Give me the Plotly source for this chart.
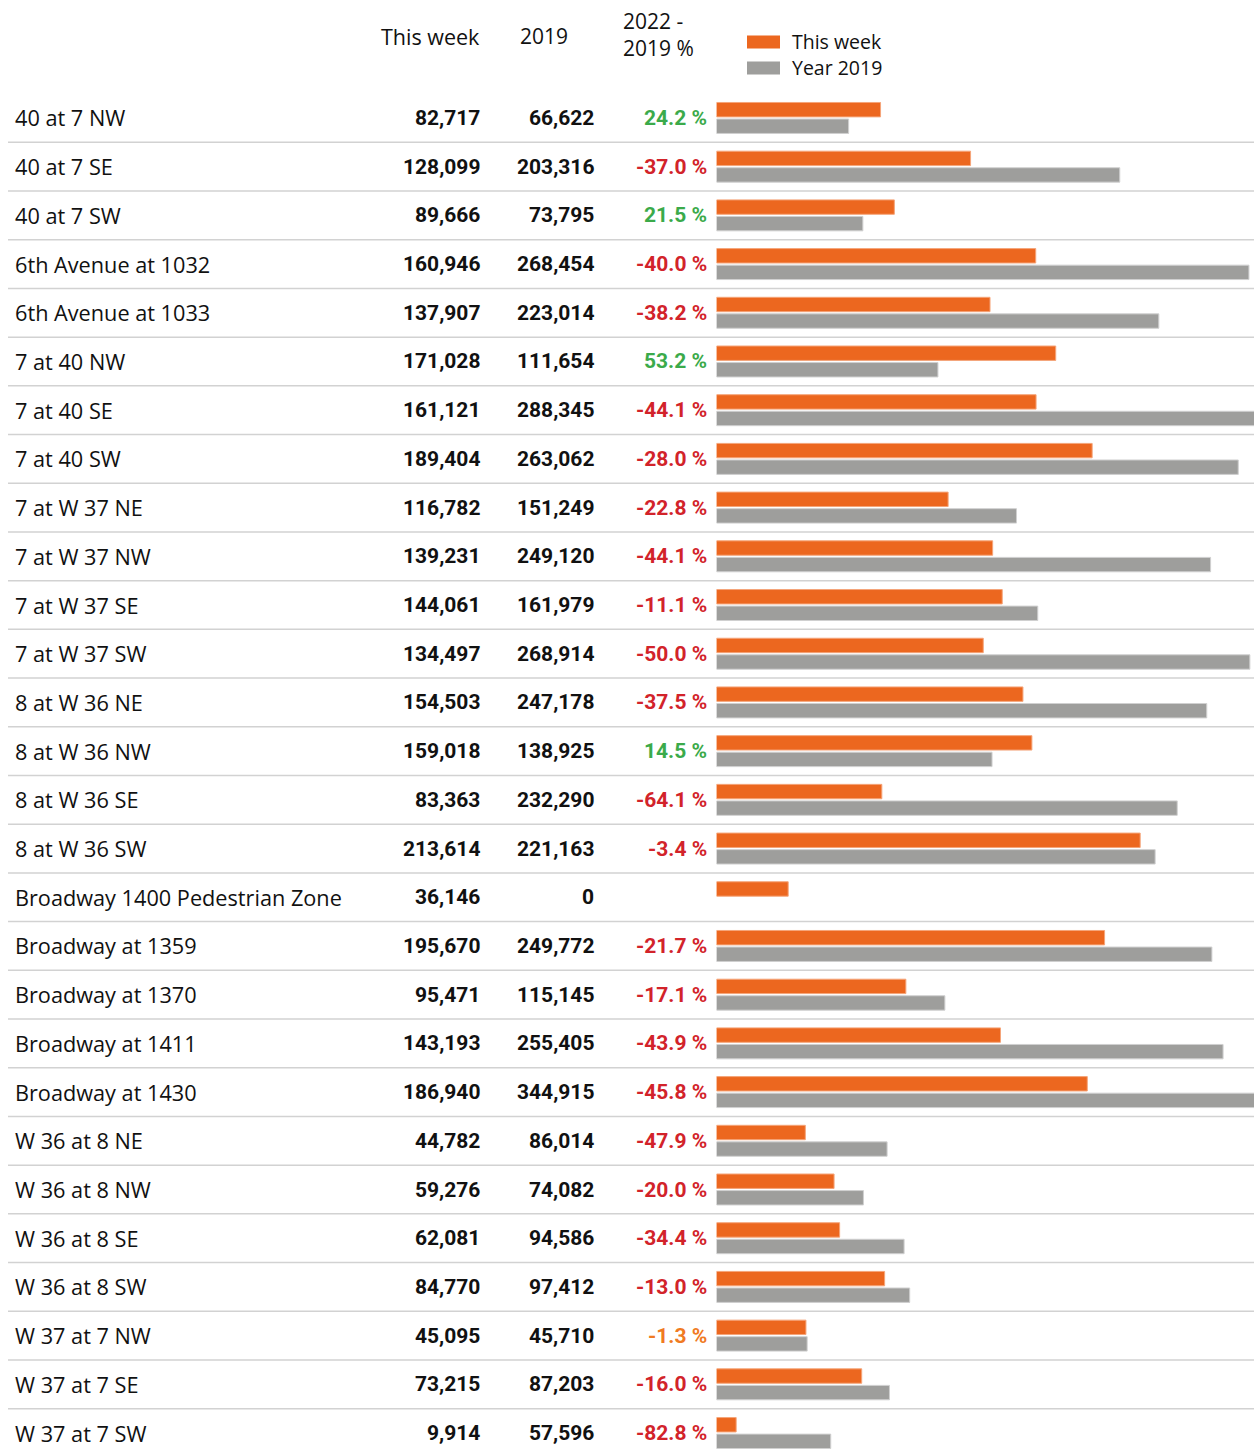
import plotly.graph_objects as go

names = ["40 at 7 NW", "40 at 7 SE", "40 at 7 SW", "6th Avenue at 1032", "6th Avenue at 1033",
         "7 at 40 NW", "7 at 40 SE", "7 at 40 SW", "7 at W 37 NE", "7 at W 37 NW",
         "7 at W 37 SE", "7 at W 37 SW", "8 at W 36 NE", "8 at W 36 NW", "8 at W 36 SE",
         "8 at W 36 SW", "Broadway 1400 Pedestrian Zone", "Broadway at 1359", "Broadway at 1370",
         "Broadway at 1411", "Broadway at 1430", "W 36 at 8 NE", "W 36 at 8 NW", "W 36 at 8 SE",
         "W 36 at 8 SW", "W 37 at 7 NW", "W 37 at 7 SE", "W 37 at 7 SW"]
this_week = [82717, 128099, 89666, 160946, 137907, 171028, 161121, 189404, 116782, 139231,
             144061, 134497, 154503, 159018, 83363, 213614, 36146, 195670, 95471, 143193,
             186940, 44782, 59276, 62081, 84770, 45095, 73215, 9914]
year_2019 = [66622, 203316, 73795, 268454, 223014, 111654, 288345, 263062, 151249, 249120,
             161979, 268914, 247178, 138925, 232290, 221163, 0, 249772, 115145, 255405,
             344915, 86014, 74082, 94586, 97412, 45710, 87203, 57596]
pct_change = [24.2, -37.0, 21.5, -40.0, -38.2, 53.2, -44.1, -28.0, -22.8, -44.1,
              -11.1, -50.0, -37.5, 14.5, -64.1, -3.4, None, -21.7, -17.1, -43.9,
              -45.8, -47.9, -20.0, -34.4, -13.0, -1.3, -16.0, -82.8]
col_headers = ["This week", "2019", "2022 -<br>2019 %"]
legend_labels = ["This week", "Year 2019"]

W, H = 1254, 1453
ORANGE = "#EC671F"
GRAY = "#9E9E9C"
GREEN = "#3BAA4A"
RED = "#D2232A"
AMBER = "#F07A22"
TXT = "#111111"
LABEL_FONT = "Open Sans"
NUM_FONT = "Roboto"

rows = list(range(len(names)))


def px(x):
    return x / W


def py(y):
    return 1 - y / H


fig = go.Figure()
fig.add_trace(go.Bar(y=rows, x=this_week, orientation="h", name=legend_labels[0],
                     marker=dict(color=ORANGE,
                                 line=dict(color="#F5A57A",
                                           width=[1 if v > 0 else 0 for v in this_week])),
                     showlegend=False, hoverinfo="x"))
fig.add_trace(go.Bar(y=rows, x=year_2019, orientation="h", name=legend_labels[1],
                     marker=dict(color=GRAY,
                                 line=dict(color="#D0D0D0",
                                           width=[1 if v > 0 else 0 for v in year_2019])),
                     showlegend=False, hoverinfo="x"))

ann = []
for i, n in enumerate(names):
    ann.append(dict(x=px(13), y=i, xref="paper", yref="y", text=n, showarrow=False,
                    xanchor="left", yanchor="middle",
                    font=dict(family=LABEL_FONT, size=21.7, color=TXT)))
    ann.append(dict(x=px(482), y=i, xref="paper", yref="y", text=f"<b>{this_week[i]:,}</b>",
                    showarrow=False, xanchor="right", yanchor="middle",
                    font=dict(family=NUM_FONT, size=21, color=TXT)))
    ann.append(dict(x=px(596), y=i, xref="paper", yref="y", text=f"<b>{year_2019[i]:,}</b>",
                    showarrow=False, xanchor="right", yanchor="middle",
                    font=dict(family=NUM_FONT, size=21, color=TXT)))
    p = pct_change[i]
    if p is not None:
        c = GREEN if p > 0 else (AMBER if p > -2 else RED)
        ann.append(dict(x=px(709), y=i, xref="paper", yref="y", text=f"<b>{p:.1f} %</b>",
                        showarrow=False, xanchor="right", yanchor="middle",
                        font=dict(family=NUM_FONT, size=21, color=c)))

# column headers
ann.append(dict(x=px(482), y=py(36), xref="paper", yref="paper", text=col_headers[0],
                showarrow=False, xanchor="right", yanchor="middle",
                font=dict(family=LABEL_FONT, size=21.5, color=TXT)))
ann.append(dict(x=px(544), y=py(36), xref="paper", yref="paper", text=col_headers[1],
                showarrow=False, xanchor="center", yanchor="middle",
                font=dict(family=LABEL_FONT, size=21, color=TXT)))
ann.append(dict(x=px(621), y=py(35), xref="paper", yref="paper", text=col_headers[2],
                showarrow=False, xanchor="left", yanchor="middle", align="left",
                font=dict(family=LABEL_FONT, size=21, color=TXT)))

# legend
shapes = []
for lab, col, yc in [(legend_labels[0], ORANGE, 42), (legend_labels[1], GRAY, 68)]:
    shapes.append(dict(type="rect", xref="paper", yref="paper",
                       x0=px(747), x1=px(780), y0=py(yc - 6.5), y1=py(yc + 6.5),
                       fillcolor=col, line=dict(width=0)))
    ann.append(dict(x=px(790), y=py(yc), xref="paper", yref="paper", text=lab,
                    showarrow=False, xanchor="left", yanchor="middle",
                    font=dict(family=LABEL_FONT, size=19.5, color=TXT)))

# row separators
for i in rows[:-1]:
    shapes.append(dict(type="line", xref="paper", yref="y", x0=px(8), x1=1,
                       y0=i + 0.5, y1=i + 0.5, line=dict(color="#D2D2D2", width=1.5),
                       layer="below"))

fig.update_layout(
    width=W, height=H,
    margin=dict(l=0, r=0, t=0, b=0),
    paper_bgcolor="white", plot_bgcolor="white",
    barmode="group", bargap=0.32, bargroupgap=0.13,
    xaxis=dict(domain=[px(716.5), 1], range=[0, 271000], visible=False, fixedrange=True),
    yaxis=dict(domain=[0, py(93.6)], range=[27.41, -0.5], visible=False, fixedrange=True),
    annotations=ann, shapes=shapes,
)

fig.write_html(
    "out.html",
    config={"displayModeBar": False},
    post_script="document.body.style.margin='0';document.body.style.overflow='hidden';",
)
